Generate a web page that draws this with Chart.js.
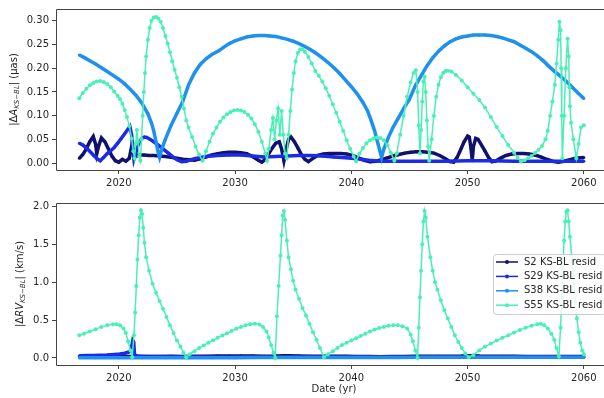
<!DOCTYPE html>
<html>
<head>
<meta charset="utf-8">
<script src="https://cdn.jsdelivr.net/npm/chart.js@4"></script>
<style>
  body { margin: 0; background: #fff; }
  #top, #bot { position: absolute; left: 0; }
  #top { top: 0; }
  #bot { top: 190px; }
</style>
</head>
<body>
<canvas id="top" width="604" height="190"></canvas>
<canvas id="bot" width="604" height="208"></canvas>
<script>
// values: [year, value]
const seriesNames = ["S2 KS-BL resid", "S29 KS-BL resid", "S38 KS-BL resid", "S55 KS-BL resid"];
const xTicks = [2020, 2030, 2040, 2050, 2060];
const topTicks = [0, 0.05, 0.10, 0.15, 0.20, 0.25, 0.30];
const botTicks = [0, 0.5, 1.0, 1.5, 2.0];

// |dA| (uas)
const s2Astro = [[2016.6,0.010],[2016.9,0.018],[2017.2,0.03],[2017.5,0.045],[2017.8,0.056],[2018.0,0.04],[2018.1,0.02],[2018.25,0.035],
  [2018.5,0.053],[2018.8,0.045],[2019.1,0.03],[2019.4,0.015],[2019.7,0.005],[2020.0,0.002],[2020.3,0.008],[2020.6,0.004],[2020.9,0.01],
  [2021.1,0.035],[2021.3,0.025],[2021.5,0.015],[2021.8,0.017],[2022.2,0.017],[2022.6,0.016],[2023.0,0.016],[2023.5,0.015],[2024.0,0.014],
  [2024.5,0.012],[2025.0,0.01],[2025.5,0.008],[2026.0,0.007],[2026.5,0.006],[2027.0,0.009],[2027.5,0.013],[2028.0,0.017],[2028.5,0.02],
  [2029.0,0.022],[2029.5,0.023],[2030.0,0.023],[2030.5,0.022],[2031.0,0.02],[2031.5,0.014],[2032.0,0.006],[2032.3,0.002],[2032.6,0.008],
  [2032.9,0.02],[2033.2,0.032],[2033.5,0.042],[2033.8,0.045],[2034.0,0.03],[2034.2,0.005],[2034.4,0.03],[2034.6,0.05],[2034.8,0.055],
  [2035.1,0.045],[2035.4,0.032],[2035.7,0.018],[2036.0,0.008],[2036.3,0.003],[2036.7,0.01],[2037.1,0.016],[2037.6,0.019],[2038.1,0.02],
  [2038.6,0.02],[2039.1,0.02],[2039.6,0.019],[2040.1,0.016],[2040.6,0.011],[2041.1,0.006],[2041.6,0.003],[2042.1,0.004],[2042.6,0.007],
  [2043.1,0.011],[2043.6,0.015],[2044.1,0.018],[2044.6,0.021],[2045.1,0.023],[2045.6,0.024],[2046.1,0.024],[2046.6,0.023],[2047.1,0.021],
  [2047.6,0.016],[2048.1,0.009],[2048.5,0.003],[2048.8,0.002],[2049.1,0.012],[2049.4,0.028],[2049.7,0.045],[2050.0,0.057],[2050.15,0.055],
  [2050.3,0.03],[2050.4,0.005],[2050.5,0.035],[2050.7,0.052],[2050.9,0.05],[2051.2,0.038],[2051.5,0.025],[2051.8,0.012],[2052.1,0.003],
  [2052.4,0.004],[2052.8,0.01],[2053.3,0.016],[2053.8,0.019],[2054.3,0.02],[2054.8,0.02],[2055.3,0.019],[2055.8,0.017],[2056.3,0.013],
  [2056.8,0.008],[2057.3,0.004],[2057.8,0.002],[2058.3,0.004],[2058.8,0.007],[2059.3,0.01],[2060.0,0.012]];

const s29Astro = [[2016.6,0.042],[2016.9,0.038],[2017.2,0.032],[2017.5,0.025],[2017.8,0.017],[2018.1,0.01],[2018.4,0.005],[2018.7,0.012],
  [2019.0,0.02],[2019.3,0.026],[2019.6,0.033],[2019.9,0.042],[2020.2,0.052],[2020.5,0.062],[2020.8,0.072],[2020.95,0.077],[2021.1,0.06],
  [2021.2,0.03],[2021.3,0.008],[2021.45,0.02],[2021.6,0.035],[2021.8,0.046],[2022.0,0.052],[2022.2,0.055],[2022.4,0.054],[2022.7,0.05],
  [2023.0,0.045],[2023.4,0.038],[2023.8,0.03],[2024.2,0.022],[2024.6,0.014],[2025.0,0.007],[2025.4,0.003],[2025.8,0.004],[2026.2,0.007],
  [2026.6,0.01],[2027.5,0.014],[2028.5,0.016],[2029.5,0.017],[2030.5,0.017],[2031.5,0.015],[2032.5,0.013],[2033.5,0.014],[2034.5,0.015],
  [2035.5,0.016],[2036.5,0.016],[2037.5,0.015],[2038.5,0.013],[2039.5,0.011],[2040.5,0.009],[2041.5,0.006],[2042.5,0.004],[2043.5,0.004],
  [2044.5,0.004],[2046.0,0.004],[2048.0,0.004],[2050.0,0.005],[2052.0,0.005],[2054.0,0.004],[2056.0,0.004],[2058.0,0.004],[2060.0,0.004]];

const s38Astro = [[2016.6,0.228],[2017.0,0.223],[2017.5,0.216],[2018.0,0.209],[2018.5,0.201],[2019.0,0.193],[2019.5,0.185],[2020.0,0.177],
  [2020.5,0.167],[2021.0,0.155],[2021.5,0.142],[2022.0,0.126],[2022.5,0.104],[2022.8,0.085],[2023.0,0.068],[2023.2,0.045],[2023.4,0.02],
  [2023.5,0.012],[2023.7,0.03],[2024.0,0.05],[2024.5,0.08],[2025.0,0.105],[2025.5,0.13],[2026.0,0.165],[2026.5,0.19],[2027.0,0.208],
  [2027.5,0.22],[2028.0,0.229],[2028.6,0.237],[2029.0,0.244],[2029.5,0.252],[2030.0,0.258],[2030.5,0.262],[2031.0,0.266],[2031.5,0.268],
  [2032.0,0.269],[2032.5,0.269],[2033.0,0.268],[2033.5,0.267],[2034.0,0.264],[2034.5,0.261],[2035.0,0.257],[2035.5,0.252],[2036.0,0.246],
  [2036.5,0.239],[2037.0,0.231],[2037.5,0.222],[2038.0,0.212],[2038.5,0.201],[2039.0,0.189],[2039.5,0.175],[2040.0,0.161],[2040.5,0.146],
  [2041.0,0.128],[2041.4,0.11],[2041.7,0.09],[2042.0,0.068],[2042.3,0.04],[2042.6,0.012],[2042.8,0.03],[2043.2,0.055],[2043.6,0.076],
  [2044.0,0.093],[2044.5,0.115],[2045.0,0.135],[2045.5,0.163],[2046.0,0.184],[2046.5,0.205],[2047.0,0.222],[2047.5,0.236],[2048.0,0.247],
  [2048.5,0.256],[2049.0,0.262],[2049.5,0.266],[2050.0,0.268],[2050.5,0.27],[2051.0,0.27],[2051.5,0.27],[2052.0,0.269],[2052.5,0.267],
  [2053.0,0.264],[2053.5,0.26],[2054.0,0.256],[2054.5,0.249],[2055.0,0.242],[2055.5,0.235],[2056.0,0.226],[2056.5,0.216],[2057.0,0.204],
  [2057.5,0.193],[2058.0,0.183],[2058.5,0.172],[2059.0,0.16],[2059.5,0.148],[2060.0,0.136]];

const s55Astro = [[2016.6,0.137],[2016.9,0.148],[2017.2,0.157],[2017.5,0.164],[2017.8,0.169],[2018.1,0.172],[2018.4,0.173],[2018.7,0.171],
  [2019.0,0.167],[2019.3,0.16],[2019.6,0.151],[2019.9,0.142],[2020.1,0.135],[2020.3,0.125],[2020.5,0.112],[2020.7,0.097],[2020.9,0.078],
  [2021.1,0.052],[2021.25,0.025],[2021.35,0.01],[2021.45,0.04],[2021.55,0.07],[2021.65,0.045],[2021.75,0.015],[2021.85,0.005],[2021.95,0.05],
  [2022.05,0.1],[2022.15,0.15],[2022.25,0.19],[2022.35,0.225],[2022.5,0.26],[2022.65,0.285],[2022.8,0.3],[2023.0,0.307],[2023.2,0.308],
  [2023.4,0.305],[2023.6,0.298],[2023.8,0.285],[2024.0,0.268],[2024.2,0.252],[2024.4,0.234],[2024.6,0.215],[2024.8,0.197],[2025.0,0.18],
  [2025.2,0.16],[2025.4,0.14],[2025.6,0.115],[2025.8,0.09],[2026.0,0.075],[2026.3,0.055],[2026.6,0.035],[2026.9,0.018],[2027.2,0.005],
  [2027.5,0.025],[2027.8,0.045],[2028.1,0.062],[2028.4,0.075],[2028.7,0.087],[2029.0,0.096],[2029.3,0.103],[2029.6,0.108],[2029.9,0.111],
  [2030.2,0.112],[2030.5,0.111],[2030.8,0.108],[2031.1,0.102],[2031.4,0.094],[2031.7,0.082],[2032.0,0.066],[2032.3,0.045],[2032.6,0.02],
  [2032.75,0.005],[2032.9,0.03],[2033.1,0.07],[2033.25,0.095],[2033.4,0.05],[2033.55,0.09],[2033.7,0.115],[2033.85,0.06],[2034.0,0.11],
  [2034.15,0.06],[2034.3,0.02],[2034.45,0.01],[2034.6,0.06],[2034.75,0.11],[2034.9,0.155],[2035.05,0.19],[2035.2,0.215],[2035.4,0.232],
  [2035.6,0.24],[2035.8,0.24],[2036.0,0.235],[2036.3,0.224],[2036.6,0.21],[2036.9,0.194],[2037.2,0.184],[2037.5,0.172],[2037.8,0.158],
  [2038.1,0.142],[2038.4,0.124],[2038.7,0.106],[2039.0,0.087],[2039.3,0.068],[2039.6,0.048],[2039.9,0.03],[2040.2,0.014],[2040.4,0.004],
  [2040.7,0.02],[2041.0,0.032],[2041.3,0.042],[2041.6,0.048],[2041.9,0.052],[2042.2,0.054],[2042.5,0.053],[2042.8,0.048],[2043.1,0.038],
  [2043.4,0.022],[2043.7,0.005],[2043.9,0.02],[2044.2,0.06],[2044.5,0.1],[2044.8,0.14],[2045.1,0.17],[2045.35,0.19],[2045.55,0.196],
  [2045.7,0.15],[2045.8,0.08],[2045.9,0.02],[2046.0,0.07],[2046.1,0.13],[2046.2,0.172],[2046.3,0.182],[2046.4,0.15],[2046.5,0.09],
  [2046.6,0.035],[2046.7,0.005],[2046.9,0.05],[2047.1,0.1],[2047.3,0.14],[2047.5,0.165],[2047.7,0.181],[2047.9,0.19],[2048.1,0.194],
  [2048.3,0.195],[2048.6,0.193],[2049.0,0.186],[2049.5,0.174],[2050.0,0.16],[2050.5,0.146],[2051.0,0.133],[2051.5,0.117],[2052.0,0.097],
  [2052.5,0.076],[2053.0,0.057],[2053.5,0.038],[2054.0,0.022],[2054.3,0.011],[2054.6,0.003],[2054.9,0.006],[2055.2,0.01],[2055.5,0.015],
  [2055.8,0.021],[2056.1,0.028],[2056.4,0.036],[2056.7,0.05],[2056.9,0.068],[2057.1,0.1],[2057.3,0.13],[2057.5,0.165],[2057.65,0.21],
  [2057.8,0.26],[2057.9,0.298],[2058.0,0.28],[2058.05,0.2],[2058.1,0.1],[2058.15,0.01],[2058.3,0.1],[2058.45,0.2],[2058.6,0.262],
  [2058.7,0.225],[2058.75,0.16],[2058.8,0.12],[2058.9,0.085],[2059.1,0.05],[2059.35,0.01],[2059.55,0.04],[2059.75,0.075],[2060.0,0.08]];

// |dRV| (km/s)
const s2Rv = [[2016.6,0.015],[2017.5,0.017],[2018.5,0.02],[2019.5,0.022],[2020.5,0.02],[2021.0,0.018],[2021.5,0.015],[2022.5,0.018],
  [2023.5,0.02],[2024.5,0.022],[2025.5,0.02],[2026.5,0.022],[2027.5,0.024],[2028.5,0.025],[2029.5,0.026],[2030.5,0.026],[2031.5,0.025],
  [2032.5,0.024],[2033.5,0.025],[2034.2,0.03],[2034.6,0.028],[2035.5,0.025],[2036.5,0.024],[2037.5,0.023],[2038.5,0.022],[2039.5,0.021],
  [2040.5,0.02],[2041.5,0.018],[2042.5,0.017],[2043.5,0.018],[2044.5,0.02],[2045.5,0.022],[2046.5,0.023],[2047.5,0.024],[2048.5,0.024],
  [2049.5,0.025],[2050.3,0.03],[2051.0,0.026],[2052.0,0.024],[2053.0,0.022],[2054.0,0.021],[2055.0,0.02],[2056.0,0.02],[2057.0,0.019],
  [2058.0,0.02],[2059.0,0.02],[2060.0,0.02]];

const s29Rv = [[2016.6,0.03],[2017.2,0.031],[2017.8,0.033],[2018.4,0.035],[2019.0,0.038],[2019.6,0.045],[2020.1,0.052],[2020.5,0.062],
  [2020.8,0.075],[2021.0,0.09],[2021.1,0.15],[2021.2,0.23],[2021.28,0.21],[2021.35,0.04],[2021.6,0.025],[2022.5,0.02],[2023.5,0.018],
  [2024.5,0.016],[2025.5,0.015],[2027.0,0.014],[2029.0,0.014],[2031.0,0.013],[2033.0,0.013],[2035.0,0.012],[2037.0,0.012],[2039.0,0.011],
  [2041.0,0.011],[2043.0,0.011],[2045.0,0.01],[2047.0,0.01],[2049.0,0.01],[2051.0,0.01],[2053.0,0.01],[2055.0,0.01],[2057.0,0.01],
  [2059.0,0.01],[2060.0,0.01]];

const s38Rv = [[2016.6,0.002],[2018.0,0.002],[2020.0,0.003],[2022.0,0.003],[2024.0,0.003],[2026.0,0.004],[2028.0,0.004],[2030.0,0.004],
  [2032.0,0.005],[2034.0,0.005],[2036.0,0.005],[2038.0,0.006],[2040.0,0.006],[2042.0,0.007],[2044.0,0.007],[2046.0,0.008],[2048.0,0.008],
  [2050.0,0.008],[2052.0,0.009],[2054.0,0.009],[2056.0,0.009],[2058.0,0.009],[2060.0,0.009]];

const s55Rv = [[2016.6,0.30],[2017.0,0.32],[2017.5,0.35],[2018.0,0.38],[2018.5,0.41],[2019.0,0.43],[2019.5,0.445],[2019.8,0.445],
  [2020.1,0.43],[2020.4,0.39],[2020.6,0.33],[2020.8,0.22],[2021.0,0.1],[2021.15,0.01],[2021.3,0.3],[2021.4,0.6],[2021.5,0.95],[2021.6,1.3],
  [2021.7,1.62],[2021.8,1.85],[2021.9,1.95],[2022.0,1.9],[2022.1,1.72],[2022.2,1.52],[2022.35,1.33],[2022.6,1.15],[2022.9,0.98],
  [2023.2,0.86],[2023.5,0.75],[2023.8,0.65],[2024.1,0.54],[2024.4,0.43],[2024.7,0.33],[2025.0,0.23],[2025.3,0.15],[2025.55,0.07],
  [2025.8,0.01],[2026.1,0.05],[2026.5,0.09],[2026.9,0.13],[2027.3,0.165],[2027.7,0.2],[2028.1,0.235],[2028.5,0.265],[2028.9,0.295],
  [2029.3,0.325],[2029.7,0.355],[2030.1,0.385],[2030.5,0.41],[2030.9,0.43],[2031.3,0.445],[2031.7,0.45],[2032.1,0.44],[2032.4,0.41],
  [2032.7,0.35],[2032.9,0.27],[2033.1,0.17],[2033.3,0.07],[2033.45,0.0],[2033.6,0.55],[2033.75,0.95],[2033.9,1.35],[2034.0,1.62],
  [2034.1,1.88],[2034.2,1.94],[2034.3,1.82],[2034.45,1.55],[2034.6,1.33],[2034.8,1.17],[2035.0,1.02],[2035.2,0.9],[2035.5,0.78],
  [2035.8,0.66],[2036.1,0.56],[2036.4,0.45],[2036.7,0.34],[2037.0,0.24],[2037.3,0.13],[2037.65,0.01],[2038.0,0.05],[2038.4,0.09],
  [2038.8,0.13],[2039.2,0.17],[2039.6,0.2],[2040.0,0.23],[2040.4,0.26],[2040.8,0.29],[2041.2,0.32],[2041.6,0.35],[2042.0,0.375],
  [2042.4,0.395],[2042.8,0.41],[2043.2,0.425],[2043.6,0.43],[2044.0,0.43],[2044.4,0.42],[2044.8,0.39],[2045.1,0.31],[2045.3,0.22],
  [2045.5,0.1],[2045.7,0.0],[2045.8,0.4],[2045.9,0.8],[2046.0,1.15],[2046.1,1.5],[2046.2,1.8],[2046.3,1.94],[2046.4,1.85],[2046.55,1.6],
  [2046.8,1.33],[2047.0,1.15],[2047.2,1.0],[2047.4,0.9],[2047.7,0.76],[2048.0,0.63],[2048.3,0.52],[2048.6,0.41],[2048.9,0.3],[2049.2,0.21],
  [2049.5,0.13],[2049.8,0.06],[2050.1,0.01],[2050.5,0.04],[2051.0,0.1],[2051.5,0.15],[2052.0,0.19],[2052.5,0.23],[2053.0,0.265],
  [2053.5,0.3],[2054.0,0.335],[2054.5,0.37],[2055.0,0.4],[2055.5,0.425],[2056.0,0.445],[2056.3,0.45],[2056.6,0.43],[2056.9,0.39],
  [2057.2,0.32],[2057.45,0.24],[2057.65,0.13],[2057.85,0.02],[2058.0,0.4],[2058.1,0.8],[2058.2,1.2],[2058.3,1.55],[2058.4,1.8],
  [2058.5,1.93],[2058.6,1.95],[2058.7,1.8],[2058.8,1.6],[2058.95,1.35],[2059.1,1.05],[2059.25,0.75],[2059.4,0.52],[2059.55,0.34],
  [2059.7,0.2],[2059.85,0.1],[2060.0,0.05]];

const colors = ['#11116e', '#1c2be6', '#1e90f0', '#48f0b4'];
const font = 'DejaVu Sans';

function toXY(arr) {
  return arr.map(p => ({x: p[0], y: p[1]}));
}

function makeSets(list) {
  return list.map((arr, i) => ({
    label: seriesNames[i],
    data: toXY(arr),
    borderColor: colors[i],
    backgroundColor: colors[i],
    borderWidth: i == 3 ? 1.5 : 3.5,
    pointRadius: i == 3 ? 2 : 1.5,
    pointBorderWidth: 0,
    order: 4 - i
  }));
}

function drawYTitle(ctx, parts, x, yc) {
  ctx.save();
  ctx.translate(x, yc);
  ctx.rotate(-Math.PI / 2);
  ctx.fillStyle = '#262626';
  ctx.textBaseline = 'middle';
  ctx.textAlign = 'left';
  let fnt = p => (p[1] ? 'italic ' : '') + (p[2] ? '7px ' : '10px ') + font;
  let w = parts.map(p => { ctx.font = fnt(p); return ctx.measureText(p[0]).width; });
  let cx = -w.reduce((a, b) => a + b, 0) / 2;
  parts.forEach((p, i) => {
    ctx.font = fnt(p);
    ctx.fillText(p[0], cx, p[2] ? 3 : 0);
    cx += w[i];
  });
  ctx.restore();
}

// matplotlib style frame, y title, x title and legend
const decor = {
  id: 'decor',
  afterDraw(chart, args, o) {
    const ctx = chart.ctx, a = chart.chartArea;
    ctx.save();
    ctx.strokeStyle = '#444';
    ctx.lineWidth = 1;
    ctx.beginPath();
    ctx.moveTo(a.left + 0.5, a.bottom + 0.5);
    ctx.lineTo(a.left + 0.5, a.top + 0.5);
    ctx.lineTo(chart.width, a.top + 0.5);
    ctx.moveTo(a.left + 0.5, a.bottom + 0.5);
    ctx.lineTo(chart.width, a.bottom + 0.5);
    ctx.stroke();
    ctx.restore();

    drawYTitle(ctx, o.yTitle, o.yTitleX, (a.top + a.bottom) / 2);

    if (o.xTitle) {
      ctx.save();
      ctx.fillStyle = '#262626';
      ctx.font = '10px ' + font;
      ctx.textAlign = 'center';
      ctx.textBaseline = 'middle';
      ctx.fillText(o.xTitle, 334, o.xTitleY);
      ctx.restore();
    }

    if (o.legend) {
      const L = o.legend;
      ctx.save();
      ctx.fillStyle = 'rgba(255,255,255,0.85)';
      ctx.strokeStyle = '#cccccc';
      ctx.lineWidth = 1;
      ctx.beginPath();
      ctx.roundRect(L.x + 0.5, L.y + 0.5, L.w, L.h, 3);
      ctx.fill();
      ctx.stroke();
      ctx.font = '10px ' + font;
      ctx.textBaseline = 'middle';
      ctx.textAlign = 'left';
      chart.data.datasets.forEach((ds, i) => {
        const y = L.y + 8 + i * 14.4;
        ctx.strokeStyle = ds.borderColor;
        ctx.lineWidth = 1.5;
        ctx.beginPath();
        ctx.moveTo(L.x + 3, y);
        ctx.lineTo(L.x + 25, y);
        ctx.stroke();
        ctx.fillStyle = ds.borderColor;
        ctx.beginPath();
        ctx.arc(L.x + 14, y, 2, 0, Math.PI * 2);
        ctx.fill();
        ctx.fillStyle = '#262626';
        ctx.fillText(ds.label, L.x + 31, y);
      });
      ctx.restore();
    }
  }
};

function makeOptions(yMin, yMax, yTicks, dec, xH, pad, deco) {
  return {
    responsive: false,
    animation: false,
    layout: { padding: { left: 0, right: 0, top: pad, bottom: 0 } },
    plugins: { legend: { display: false }, tooltip: { enabled: false }, decor: deco },
    scales: {
      x: {
        type: 'linear',
        min: 2014.594,
        max: 2061.39,
        afterBuildTicks: s => { s.ticks = xTicks.map(v => ({value: v})); },
        afterFit: s => { s.height = xH; },
        grid: { drawOnChartArea: false, tickLength: 4, tickColor: '#444' },
        border: { display: false },
        ticks: { color: '#262626', font: { family: font, size: 10 }, padding: 3, maxRotation: 0,
                 callback: v => String(v) }
      },
      y: {
        min: yMin,
        max: yMax,
        afterBuildTicks: s => { s.ticks = yTicks.map(v => ({value: v})); },
        afterFit: s => { s.width = 56; },
        grid: { drawOnChartArea: false, tickLength: 4, tickColor: '#444' },
        border: { display: false },
        ticks: { color: '#262626', font: { family: font, size: 10 }, padding: 3,
                 callback: v => v.toFixed(dec) }
      }
    }
  };
}

new Chart(document.getElementById('top'), {
  type: 'line',
  data: { datasets: makeSets([s2Astro, s29Astro, s38Astro, s55Astro]) },
  options: makeOptions(-0.0146, 0.325, topTicks, 2, 20, 7, {
    yTitle: [['|Δ', 0, 0], ['A', 1, 0], ['KS−BL', 1, 1], ['| (μas)', 0, 0]],
    yTitleX: 14
  }),
  plugins: [decor]
});

new Chart(document.getElementById('bot'), {
  type: 'line',
  data: { datasets: makeSets([s2Rv, s29Rv, s38Rv, s55Rv]) },
  options: makeOptions(-0.093, 2.045, botTicks, 1, 33, 13, {
    yTitle: [['|Δ', 0, 0], ['RV', 1, 0], ['KS−BL', 1, 1], ['| (km/s)', 0, 0]],
    yTitleX: 20,
    xTitle: 'Date (yr)',
    xTitleY: 199,
    legend: { x: 493, y: 64, w: 112, h: 60 }
  }),
  plugins: [decor]
});
</script>
</body>
</html>
